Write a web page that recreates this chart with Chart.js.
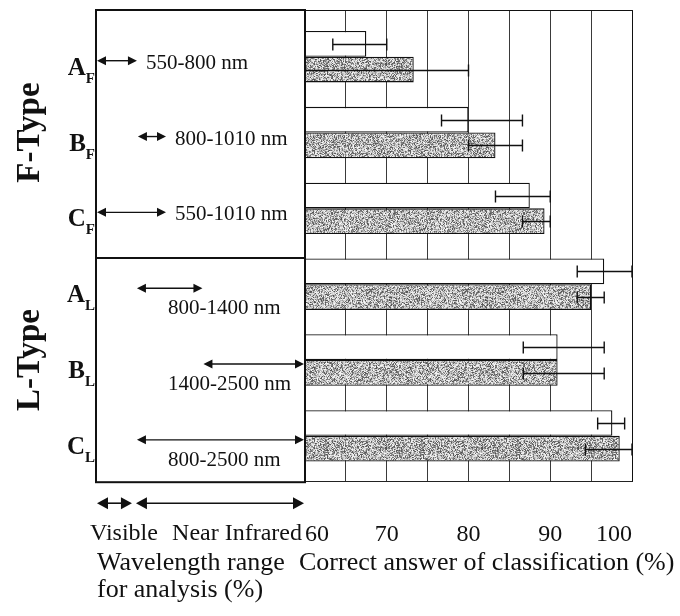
<!DOCTYPE html>
<html><head><meta charset="utf-8">
<script src="https://cdn.jsdelivr.net/npm/chart.js@4/dist/chart.umd.min.js"></script>
<style>html,body{margin:0;padding:0;background:#fff}</style>
</head><body>
<canvas id="c" width="680" height="616"></canvas>
<script>
// ---- data ----
const groupLetters = ['A', 'B', 'C', 'A', 'B', 'C'];
const groupSubs = ['F', 'F', 'F', 'L', 'L', 'L'];
const groupType = [0, 0, 0, 1, 1, 1];
const typeNames = ['F-Type', 'L-Type'];

const whiteValues = [67.5, 80.0, 87.5, 96.6, 90.9, 97.6];
const whiteLow    = [63.4, 76.7, 83.3, 93.3, 86.7, 95.8];
const whiteHigh   = [70.0, 86.6, 90.0, 100.0, 96.6, 99.1];
const grayValues  = [73.3, 83.3, 89.3, 95.0, 90.9, 98.5];
const grayLow     = [60.0, 80.0, 86.6, 93.3, 86.7, 94.3];
const grayHigh    = [80.0, 86.6, 90.0, 96.6, 96.6, 100.0];

const xTickLabels = [60, 70, 80, 90, 100];

const rangeStart = [550, 800, 550, 800, 1400, 800];
const rangeEnd   = [800, 1010, 1010, 1400, 2500, 2500];
const rangeLabels = ['550-800 nm', '800-1010 nm', '550-1010 nm', '800-1400 nm', '1400-2500 nm', '800-2500 nm'];

const bandNames = ['Visible', 'Near Infrared'];
const bandStart = [550, 800];
const bandEnd   = [800, 2500];

// wavelength axis of the left panel (not linear in the figure)
const wavelengthStops = [550, 800, 1010, 1400, 2500];
const wavelengthStopPos = [0, 0.196, 0.335, 0.514, 1];

const xAxisTitle = 'Correct answer of classification (%)';
const leftTitleLines = ['Wavelength range', 'for analysis (%)'];

// ---- drawing ----
const SERIF = '"Liberation Serif", "DejaVu Serif", serif';
const canvas = document.getElementById('c');
const ctx = canvas.getContext('2d');

function makeSpeckle() {
  const n = 96;
  const c = document.createElement('canvas'); c.width = n; c.height = n;
  const g = c.getContext('2d'); const img = g.createImageData(n, n);
  let s = 987654321;
  for (let p = 0; p < n * n; p++) {
    s = (Math.imul(s, 1103515245) + 12345) >>> 0;
    const r = ((s >>> 9) % 1000) / 1000;
    const v = r < 0.42 ? 80 + r * 200 : 180 + (r - 0.42) * 120;
    img.data[p * 4] = img.data[p * 4 + 1] = img.data[p * 4 + 2] = v;
    img.data[p * 4 + 3] = 255;
  }
  g.putImageData(img, 0, 0);
  return ctx.createPattern(c, 'repeat');
}

function wlFrac(w) {
  for (let k = 1; k < wavelengthStops.length; k++) {
    if (w <= wavelengthStops[k]) {
      const a = wavelengthStops[k - 1], b = wavelengthStops[k];
      return wavelengthStopPos[k - 1] + (w - a) / (b - a) * (wavelengthStopPos[k] - wavelengthStopPos[k - 1]);
    }
  }
  return 1;
}

function drawArrow(c, x1, x2, y, head, half, lw) {
  c.lineWidth = lw;
  c.beginPath(); c.moveTo(x1 + head * 0.5, y); c.lineTo(x2 - head * 0.5, y); c.stroke();
  c.beginPath(); c.moveTo(x1, y); c.lineTo(x1 + head, y - half); c.lineTo(x1 + head, y + half); c.closePath(); c.fill();
  c.beginPath(); c.moveTo(x2, y); c.lineTo(x2 - head, y - half); c.lineTo(x2 - head, y + half); c.closePath(); c.fill();
}

const errLow = [whiteLow, grayLow];
const errHigh = [whiteHigh, grayHigh];

const errorBarPlugin = {
  id: 'errorBars',
  afterDatasetsDraw(chart) {
    const c = chart.ctx, xs = chart.scales.x;
    c.save();
    c.strokeStyle = '#111'; c.lineWidth = 1.4;
    for (let d = 0; d < 2; d++) {
      const meta = chart.getDatasetMeta(d);
      meta.data.forEach((bar, i) => {
        const y = Math.round(bar.y) + 0.5;
        const xl = xs.getPixelForValue(errLow[d][i]);
        const xh = xs.getPixelForValue(errHigh[d][i]);
        c.beginPath();
        c.moveTo(xl, y); c.lineTo(xh, y);
        c.moveTo(xl, y - 6); c.lineTo(xl, y + 6);
        c.moveTo(xh, y - 6); c.lineTo(xh, y + 6);
        c.stroke();
      });
    }
    c.restore();
  }
};

const PANEL_WIDTH = 209;
const panelPlugin = {
  id: 'panel',
  afterDraw(chart) {
    const c = chart.ctx, area = chart.chartArea, ys = chart.scales.y;
    const pl = area.left - PANEL_WIDTH, pr = area.left;
    const top = area.top, bottom = area.bottom + 1;
    const wx = w => pl + wlFrac(w) * (pr - pl);
    c.save();
    c.fillStyle = '#111'; c.strokeStyle = '#111';

    // frame of the plot area (top and right)
    c.lineWidth = 1;
    c.beginPath();
    c.moveTo(area.left, top + 0.5); c.lineTo(area.right + 0.5, top + 0.5); c.lineTo(area.right + 0.5, area.bottom);
    c.stroke();

    // panel box
    c.lineWidth = 2;
    c.strokeRect(pl, top, pr - pl, bottom - top);
    // divider between F- and L-type: top edge of the first L-type white bar
    const firstL = groupType.indexOf(1);
    const barEl = chart.getDatasetMeta(0).data[firstL];
    const divY = Math.round(barEl.y - barEl.height / 2);
    c.beginPath(); c.moveTo(pl, divY); c.lineTo(pr, divY); c.stroke();

    // group labels, arrows and range texts
    c.textBaseline = 'alphabetic';
    groupLetters.forEach((L, i) => {
      const cy = ys.getPixelForValue(i);
      c.font = 'bold 15px ' + SERIF;
      c.textAlign = 'right';
      c.fillText(groupSubs[i], pl - 1, cy + 26);
      const sw = c.measureText(groupSubs[i]).width;
      c.font = 'bold 25px ' + SERIF;
      c.fillText(L, pl - 1 - sw, cy + 18);

      const x1 = wx(rangeStart[i]), x2 = wx(rangeEnd[i]);
      c.font = '21px ' + SERIF;
      if (groupType[i] === 0) {
        const ay = cy + 4;
        drawArrow(c, x1 + 1, x2, ay, 9, 4.5, 1.4);
        c.textAlign = 'left';
        c.fillText(rangeLabels[i], x2 + 9, ay + 8);
      } else {
        const ay = cy + 4;
        drawArrow(c, x1, x2 - 1, ay, 9, 4.5, 1.4);
        c.textAlign = 'left';
        c.fillText(rangeLabels[i], pl + 72, cy + 30);
      }
    });

    // type labels (rotated)
    c.font = 'bold 33px ' + SERIF;
    c.textAlign = 'center'; c.textBaseline = 'middle';
    typeNames.forEach((name, t) => {
      const idx = groupType.map((g, i) => g === t ? i : -1).filter(i => i >= 0);
      const cy = idx.reduce((s, i) => s + ys.getPixelForValue(i), 0) / idx.length;
      c.save(); c.translate(30, cy); c.rotate(-Math.PI / 2);
      c.fillText(name, 0, 0); c.restore();
    });

    // band arrows below the panel
    const by = area.bottom + 22;
    drawArrow(c, wx(bandStart[0]) + 1, wx(bandEnd[0]) - 5, by, 11, 6, 1.6);
    drawArrow(c, wx(bandStart[1]) - 1, wx(bandEnd[1]) - 1, by, 11, 6, 1.6);
    c.textBaseline = 'alphabetic';
    c.font = '24px ' + SERIF;
    c.textAlign = 'left'; c.fillText(bandNames[0], wx(bandStart[0]) - 6, area.bottom + 59);
    c.textAlign = 'right'; c.fillText(bandNames[1], wx(bandEnd[1]) - 3, area.bottom + 59);

    // axis descriptions
    c.font = '26px ' + SERIF;
    c.textAlign = 'left';
    leftTitleLines.forEach((t, k) => c.fillText(t, pl + 1, area.bottom + 89 + k * 27));
    c.fillText(xAxisTitle, area.left - 6, area.bottom + 89);
    c.restore();
  }
};

const chart = new Chart(ctx, {
  type: 'bar',
  data: {
    datasets: [
      { label: 'white', data: whiteValues.map((v, i) => ({ x: v, y: i })),
        backgroundColor: '#ffffff', borderColor: '#111', borderWidth: 1.3,
        categoryPercentage: 0.678, barPercentage: 1 },
      { label: 'gray', data: grayValues.map((v, i) => ({ x: v, y: i })),
        backgroundColor: makeSpeckle(), borderColor: '#111', borderWidth: 1.3,
        categoryPercentage: 0.678, barPercentage: 1 }
    ]
  },
  options: {
    indexAxis: 'y',
    responsive: false,
    animation: false,
    devicePixelRatio: 1,
    layout: { padding: { left: 305, right: 48, top: 10, bottom: 28 } },
    plugins: { legend: { display: false }, tooltip: { enabled: false } },
    scales: {
      x: {
        type: 'linear', min: 60, max: 100, position: 'bottom',
        ticks: {
          stepSize: 5, autoSkip: false, maxRotation: 0, align: 'inner', padding: 39,
          color: '#111', font: { family: SERIF, size: 24 },
          callback: v => xTickLabels.includes(v) ? String(v) : ''
        },
        grid: { color: '#3a3a3a', lineWidth: 1, drawTicks: false },
        border: { display: true, color: '#222', width: 1 },
        title: { display: false }
      },
      y: {
        type: 'linear', reverse: true, min: -0.616, max: 5.598, display: false,
        offset: false, bounds: 'data', grace: 0,
        afterBuildTicks: s => { s.ticks = groupLetters.map((_, i) => ({ value: i })); }
      }
    }
  },
  plugins: [errorBarPlugin, panelPlugin]
});
</script>
</body></html>
